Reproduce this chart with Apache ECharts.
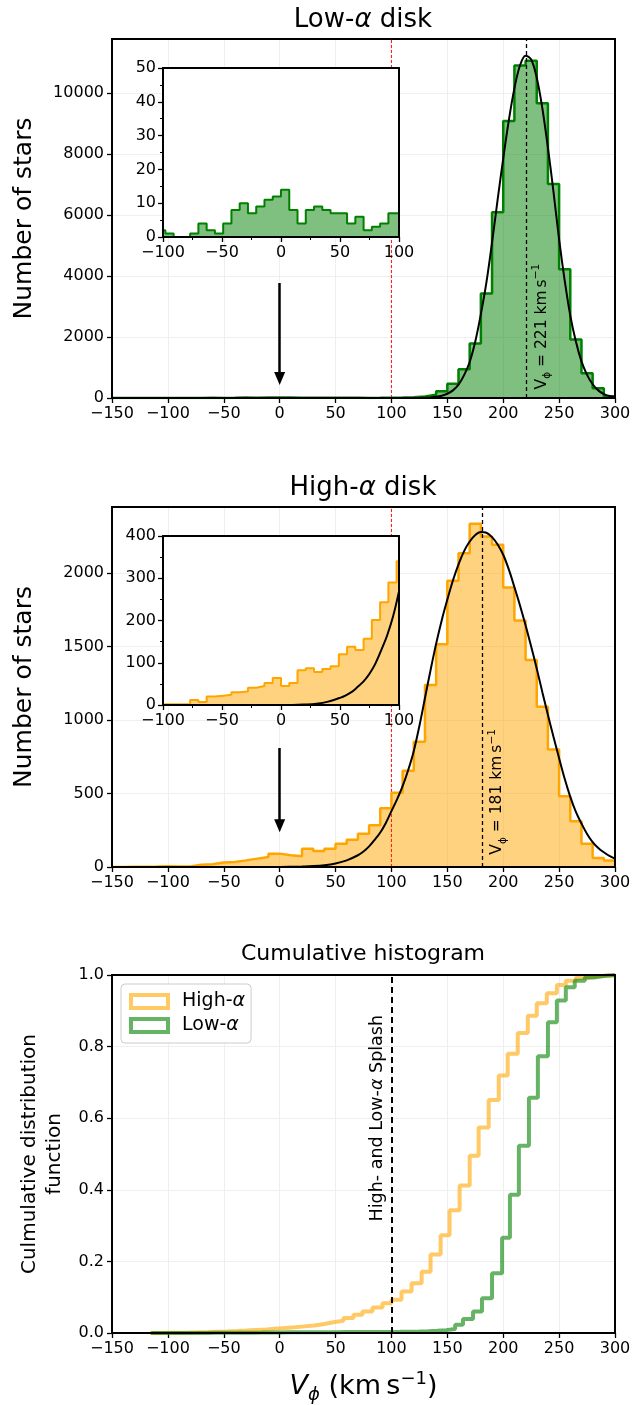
<!DOCTYPE html>
<html><head><meta charset="utf-8">
<script src="https://cdn.jsdelivr.net/npm/echarts@6/dist/echarts.min.js"></script>
<style>html,body{margin:0;padding:0;background:#fff}#c{width:644px;height:1405px}</style>
</head><body><div id="c"></div>
<script>
// ---------- data ----------
const binEdges = [-150,-140,-130,-120,-110,-100,-90,-80,-70,-60,-50,-40,-30,-20,-10,0,10,20,30,40,50,60,70,80,90,100,110,120,130,140,150,160,170,180,190,200,210,220,230,240,250,260,270,280,290,300];
const lowCounts = [0,0,0,1,1, 2,0,1,5,2,6,13,11,14,17, 18,9,11,12,10,9,7,4,5,9, 15,25,50,110,220,470,940,1790,3430,6090, 9080,10900,11060,9660,7020,4220,1920,810,320,60];
const highCounts = [0,1,2,3,5, 4,4,16,18,30,34,45,57,68,91, 80,73,125,109,125,159,186,227,284,400, 505,655,852,1239,1516,1948,2136,2336,2250,2193, 1902,1677,1409,1091,800,482,311,159,61,45];

const insetEdges = [-105,-98,-91,-84,-77,-70,-63,-56,-49,-42,-35,-28,-21,-14,-7,0,7,14,21,28,35,42,49,56,63,70,77,84,91,98,105];
const lowInset = [2,1,0,0,1,4,2,1,4,8,10,7,9,11,12,14,8,4,8,9,8,7,7,4,6,2,3,4,7,7];
const highInset = [2,2,2,2,12,7,20,22,24,30,32,41,45,52,64,45,52,82,87,78,85,92,120,138,130,157,201,243,290,340];

const curveX = [-150,-100,-50,0,10,20,30,40,50,60,70,75,80,85,90,95,100,105,110,115,120,125,130,135,140,145,150,155,160,165,170,175,180,185,190,195,200,205,210,215,220,225,230,235,240,245,250,255,260,265,270,275,280,285,290,295,300];
const lowCurve = [0,0,0,0,0,0,0,0,0,0,0, 0,0,0,0,0,0,0,1,1,2,4,8,18,38,75,140,250,440,750,1180,1850,2750,3800,5100,6500,7850,9100,10150,10900,11220,11100,10500,9500,8200,6750,5200,3850,2700,1850,1200,760,450,250,130,65,30];
const highCurve = [0,0,0,0,1,3,6,12,24,45,80, 105,140,185,235,300,380,460,550,660,790,960,1150,1340,1520,1680,1820,1950,2060,2150,2215,2260,2280,2275,2245,2195,2125,2025,1905,1780,1645,1500,1350,1190,1035,885,740,600,477,375,296,225,170,130,100,75,57];
const insetCurveX = [-100,-50,0,10,20,30,40,50,55,60,65,70,75,80,85,90,95,100];
const insetHighCurve = [0,0,0,0,1,3,8,17,23,31,43,56,74,98,130,165,210,269];

const cdfHighEdges = [-116,-107,-99,-90,-81,-73,-64,-56,-47,-38,-30,-21,-12,-4,5,14,22,31,40,48,57,66,74,83,92,100,109,118,127,135,144,152,161,170,178,187,196,204,213,222,230,239,248,256,265,274,282,291,300];
const cdfHigh = [0.0003,0.0006,0.0009,0.0012,0.0018,0.0026,0.0035,0.0045,0.0058,0.007,0.0085,0.010,0.012,0.014,0.016,0.0185,0.021,0.025,0.030,0.034,0.042,0.051,0.060,0.071,0.083,0.093,0.116,0.139,0.171,0.219,0.273,0.343,0.412,0.495,0.574,0.651,0.719,0.780,0.838,0.886,0.921,0.949,0.972,0.984,0.992,0.996,0.998,0.9995];
const cdfLowEdges = [-115,-106,-98,-90,-82,-73,-65,-57,-49,-40,-32,-24,-16,-7,1,9,17,26,34,42,50,59,67,75,83,92,100,108,116,125,133,141,149,157,164,173,181,190,199,206,214,223,231,240,248,256,264,273,281,290,298,300];
const cdfLow = [0.0001,0.0001,0.0001,0.0001,0.0002,0.0003,0.0004,0.0005,0.0006,0.0008,0.0010,0.0011,0.0013,0.0015,0.0018,0.0019,0.0020,0.0021,0.0023,0.0024,0.0025,0.0026,0.0027,0.0027,0.0028,0.0030,0.0032,0.0035,0.0040,0.0048,0.0060,0.0080,0.011,0.023,0.039,0.060,0.097,0.167,0.266,0.386,0.523,0.657,0.773,0.868,0.929,0.966,0.984,0.993,0.997,0.999,1.0];

const lowMean = 221, highMean = 181, splashV = 100;
const xTicks = [-150,300,50], insetXTicks = [-100,100,50];
const lowYMax = 11770, highYMax = 2450;
const lowYTicks = [0,2000,4000,6000,8000,10000];
const highYTicks = [0,500,1000,1500,2000];

// ---------- helpers ----------
const FONT = 'DejaVu Sans';
const TICK = 16;
const fmt = v => (v < 0 ? '\u2212' + Math.abs(v) : String(v));
function hist(edges, counts) {
  const d = counts.map((c, i) => [edges[i], c]);
  d.push([edges[edges.length - 1], counts[counts.length - 1]]);
  return d;
}
const pairs = (xs, ys) => xs.map((x, i) => [x, ys[i]]);
const tickStyle = {show: true, inside: false, length: 5, lineStyle: {color: '#000', width: 1.3}};
const gridLine = {show: true, lineStyle: {color: '#ebebeb', width: 0.8}};
const lab = {fontSize: TICK, color: '#000', fontFamily: FONT};
const axLine = {show: true, onZero: false, lineStyle: {color: '#000', width: 2}};

function mainX(gi) {
  return {gridIndex: gi, type: 'value', min: xTicks[0], max: xTicks[1], interval: xTicks[2],
    axisLine: axLine, axisTick: tickStyle, splitLine: gridLine,
    axisLabel: Object.assign({margin: 8, formatter: fmt}, lab)};
}
function mainY(gi, max, interval, ticks, name, gap) {
  return {gridIndex: gi, type: 'value', min: 0, max: max, interval: interval,
    axisLine: axLine,
    axisTick: Object.assign({customValues: ticks}, tickStyle), splitLine: gridLine,
    axisLabel: Object.assign({margin: 8, customValues: ticks,
      formatter: v => (ticks.indexOf(v) >= 0 ? String(v) : '')}, lab),
    name: name, nameLocation: 'middle', nameGap: gap,
    nameTextStyle: {fontSize: 25, color: '#000', fontFamily: FONT}};
}
function insetX(gi) {
  return {gridIndex: gi, type: 'value', min: insetXTicks[0], max: insetXTicks[1], interval: insetXTicks[2], z: 13,
    axisLine: axLine,
    axisTick: tickStyle, minorTick: {show: true, splitNumber: 2, length: 3, lineStyle: {color: '#000', width: 1}},
    splitLine: {show: false}, axisLabel: Object.assign({margin: 8, formatter: fmt}, lab)};
}
function insetY(gi, max, interval) {
  return {gridIndex: gi, type: 'value', min: 0, max: max, interval: interval, z: 13,
    axisLine: axLine,
    axisTick: tickStyle, minorTick: {show: true, splitNumber: 2, length: 3, lineStyle: {color: '#000', width: 1}},
    splitLine: {show: false}, axisLabel: Object.assign({margin: 7}, lab)};
}
function frameX(gi, min, max) {
  return {gridIndex: gi, type: 'value', position: 'top', min: min, max: max, z: 13,
    axisLine: axLine, axisTick: {show: false}, axisLabel: {show: false}, splitLine: {show: false}};
}
function frameY(gi, max) {
  return {gridIndex: gi, type: 'value', position: 'right', min: 0, max: max, z: 13,
    axisLine: axLine, axisTick: {show: false}, axisLabel: {show: false}, splitLine: {show: false}};
}
const vLabelRich = {
  n: {fontSize: 15.5, fontFamily: FONT, color: '#000', lineHeight: 22},
  sb: {fontSize: 10.5, fontFamily: FONT, color: '#000', verticalAlign: 'bottom', lineHeight: 22},
  sp: {fontSize: 10.5, fontFamily: FONT, color: '#000', verticalAlign: 'top', lineHeight: 22}
};
function rotLabel(coord, text, rich) {
  return {symbol: 'circle', symbolSize: 1, itemStyle: {color: 'rgba(0,0,0,0)'}, silent: true,
    data: [{coord: coord, label: {show: true, position: 'inside', rotate: 90, formatter: text, rich: rich}}]};
}
function vLine(x, color, width, dash) {
  return {silent: true, symbol: ['none', 'none'], label: {show: false}, animation: false,
    lineStyle: {color: color, width: width, type: dash, opacity: 1}, data: [{xAxis: x}]};
}
// arrow: shaft as markLine, head as a rotated triangle markPoint
function arrowSeries(xi, yi, x, yStart, yShaftEnd, yHead) {
  return {type: 'line', xAxisIndex: xi, yAxisIndex: yi, data: [], z: 4, silent: true,
    markLine: {silent: true, symbol: ['none', 'none'], label: {show: false}, animation: false,
      lineStyle: {color: '#000', width: 2.5, type: 'solid'},
      data: [[{coord: [x, yStart]}, {coord: [x, yShaftEnd]}]]},
    markPoint: {silent: true, symbol: 'triangle', symbolSize: [11, 13], symbolRotate: 180,
      itemStyle: {color: '#000'}, label: {show: false}, animation: false,
      data: [{coord: [x, yHead]}]}};
}
// thin red dashed reference line at the splash velocity, spanning the y range
function splashSeries(xi, yi, yMax) {
  return {type: 'line', xAxisIndex: xi, yAxisIndex: yi, data: [[splashV, 0], [splashV, yMax]], z: 2, silent: true,
    symbol: 'none', lineStyle: {color: '#ff2020', width: 1.1, type: [3, 2]}, itemStyle: {color: '#ff2020'}};
}

const lowGreen = '#008000', lowFill = 'rgba(0,128,0,0.5)';
const highOrange = '#FFA500', highFill = 'rgba(255,165,0,0.5)';

const titleStyle = (size) => ({fontSize: size, fontWeight: 'normal', color: '#000', fontFamily: FONT,
  rich: {n: {fontSize: size, fontFamily: FONT, color: '#000'}, i: {fontSize: size, fontFamily: FONT, fontStyle: 'italic', color: '#000'}}});

const option = {
  animation: false,
  backgroundColor: '#fff',
  title: [
    {text: '{n|Low-}{i|\u03b1}{n| disk}', left: 363, top: 7, textAlign: 'center', padding: 0, textStyle: titleStyle(26)},
    {text: '{n|High-}{i|\u03b1}{n| disk}', left: 363, top: 475, textAlign: 'center', padding: 0, textStyle: titleStyle(26)},
    {text: 'Cumulative histogram', left: 363, top: 943, textAlign: 'center', padding: 0, textStyle: titleStyle(22)}
  ],
  grid: [
    {left: 112, top: 39, width: 503, height: 359, show: true, borderColor: '#000', borderWidth: 2, backgroundColor: 'rgba(0,0,0,0)', z: 3},
    {left: 163, top: 68, width: 236, height: 169, show: true, borderWidth: 0, backgroundColor: '#fff', z: 10},
    {left: 112, top: 507, width: 503, height: 360, show: true, borderColor: '#000', borderWidth: 2, backgroundColor: 'rgba(0,0,0,0)', z: 3},
    {left: 163, top: 536, width: 236, height: 169, show: true, borderWidth: 0, backgroundColor: '#fff', z: 10},
    {left: 112, top: 975, width: 503, height: 360, show: true, borderColor: '#000', borderWidth: 2, backgroundColor: 'rgba(0,0,0,0)', z: 3}
  ],
  xAxis: [
    mainX(0), insetX(1), frameX(1, -100, 100),
    mainX(2), insetX(3), frameX(3, -100, 100),
    Object.assign(mainX(4), {
      name: '{i|V}{sb|\u03d5}{n| (km\u2009s}{sp|\u22121}{n|)}', nameLocation: 'middle', nameGap: 37,
      nameTextStyle: {fontSize: 27, fontFamily: FONT, color: '#000', rich: {
        n: {fontSize: 27, fontFamily: FONT, color: '#000', lineHeight: 34},
        i: {fontSize: 27, fontFamily: FONT, fontStyle: 'italic', color: '#000', lineHeight: 34},
        sb: {fontSize: 18, fontFamily: FONT, fontStyle: 'italic', color: '#000', verticalAlign: 'bottom', lineHeight: 34},
        sp: {fontSize: 18, fontFamily: FONT, color: '#000', verticalAlign: 'top', lineHeight: 34}}}
    })
  ],
  yAxis: [
    mainY(0, lowYMax, 2000, lowYTicks, 'Number of stars', 75), insetY(1, 50, 10), frameY(1, 50),
    mainY(2, highYMax, 500, highYTicks, 'Number of stars', 75), insetY(3, 400, 100), frameY(3, 400),
    {gridIndex: 4, type: 'value', min: 0, max: 1, interval: 0.2,
      axisLine: axLine, axisTick: tickStyle, splitLine: gridLine,
      axisLabel: Object.assign({margin: 8, formatter: v => v.toFixed(1)}, lab),
      name: 'Culmulative distribution\nfunction', nameLocation: 'middle', nameGap: 43,
      nameTextStyle: {fontSize: 20, lineHeight: 25, color: '#000', fontFamily: FONT}}
  ],
  legend: {
    show: true, orient: 'vertical', left: 121, top: 984,
    data: [
      {name: 'High-\u03b1', icon: 'rect', itemStyle: {color: '#fff', borderColor: 'rgba(255,165,0,0.6)', borderWidth: 4}},
      {name: 'Low-\u03b1', icon: 'rect', itemStyle: {color: '#fff', borderColor: 'rgba(0,128,0,0.6)', borderWidth: 4}}
    ],
    itemWidth: 37, itemHeight: 13, itemGap: 5, padding: [8, 6, 8, 8],
    backgroundColor: '#fff', borderColor: '#cccccc', borderWidth: 1, borderRadius: 4,
    formatter: name => '{n|' + name.slice(0, -1) + '}{i|\u03b1}',
    textStyle: {fontSize: 19, color: '#000', fontFamily: FONT, padding: [0, 0, 0, 9], rich: {
      n: {fontSize: 19, fontFamily: FONT, color: '#000', lineHeight: 22}, i: {fontSize: 19, fontFamily: FONT, fontStyle: 'italic', color: '#000', lineHeight: 22}}}
  },
  series: [
    // ---- Low-alpha main ----
    splashSeries(0, 0, lowYMax),
    {type: 'line', xAxisIndex: 0, yAxisIndex: 0, data: hist(binEdges, lowCounts), step: 'end', symbol: 'none', z: 2,
      lineStyle: {color: lowGreen, width: 2.5}, areaStyle: {color: lowFill, opacity: 1},
      markPoint: rotLabel([234.5, 2340], '{n|V}{sb|\u03d5}{n| = 221 km\u2009s}{sp|\u22121}', vLabelRich)},
    {type: 'line', xAxisIndex: 0, yAxisIndex: 0, data: pairs(curveX, lowCurve), smooth: 0.35, symbol: 'none', z: 3,
      lineStyle: {color: '#000', width: 2}, markLine: vLine(lowMean, '#000', 1.3, [4, 3])},
    arrowSeries(0, 0, 0, 3770, 700, 640),
    // ---- Low-alpha inset ----
    {type: 'line', xAxisIndex: 1, yAxisIndex: 1, data: hist(insetEdges, lowInset), step: 'end', symbol: 'none', z: 12, clip: true,
      lineStyle: {color: lowGreen, width: 2}, areaStyle: {color: lowFill, opacity: 1}},
    // ---- High-alpha main ----
    splashSeries(3, 3, highYMax),
    {type: 'line', xAxisIndex: 3, yAxisIndex: 3, data: hist(binEdges, highCounts), step: 'end', symbol: 'none', z: 2,
      lineStyle: {color: highOrange, width: 2.5}, areaStyle: {color: highFill, opacity: 1},
      markPoint: rotLabel([194.8, 511], '{n|V}{sb|\u03d5}{n| = 181 km\u2009s}{sp|\u22121}', vLabelRich)},
    {type: 'line', xAxisIndex: 3, yAxisIndex: 3, data: pairs(curveX, highCurve), smooth: 0.35, symbol: 'none', z: 3,
      lineStyle: {color: '#000', width: 2}, markLine: vLine(highMean, '#000', 1.3, [4, 3])},
    arrowSeries(3, 3, 0, 810, 300, 281),
    // ---- High-alpha inset ----
    {type: 'line', xAxisIndex: 4, yAxisIndex: 4, data: hist(insetEdges, highInset), step: 'end', symbol: 'none', z: 12, clip: true,
      lineStyle: {color: highOrange, width: 2}, areaStyle: {color: highFill, opacity: 1}},
    {type: 'line', xAxisIndex: 4, yAxisIndex: 4, data: pairs(insetCurveX, insetHighCurve), smooth: 0.35, symbol: 'none', z: 12, clip: true,
      lineStyle: {color: '#000', width: 2}},
    // ---- Cumulative ----
    {name: 'High-\u03b1', type: 'line', xAxisIndex: 6, yAxisIndex: 6, data: hist(cdfHighEdges, cdfHigh), step: 'end', symbol: 'none', z: 2,
      lineStyle: {color: 'rgba(255,165,0,0.6)', width: 4}, itemStyle: {color: 'rgba(255,165,0,0.6)'},
      markLine: vLine(splashV, '#000', 2, [6, 4]),
      markPoint: rotLabel([87.4, 0.6], '{n|High- and Low-}{i|\u03b1}{n| Splash}', {
        n: {fontSize: 17.5, fontFamily: FONT, color: '#000'}, i: {fontSize: 17.5, fontFamily: FONT, fontStyle: 'italic', color: '#000'}})},
    {name: 'Low-\u03b1', type: 'line', xAxisIndex: 6, yAxisIndex: 6, data: hist(cdfLowEdges, cdfLow), step: 'end', symbol: 'none', z: 2,
      lineStyle: {color: 'rgba(0,128,0,0.6)', width: 4}, itemStyle: {color: 'rgba(0,128,0,0.6)'}}
  ]
};
const chart = echarts.init(document.getElementById('c'), null, {renderer: 'canvas', width: 644, height: 1405});
chart.setOption(option);
</script></body></html>
